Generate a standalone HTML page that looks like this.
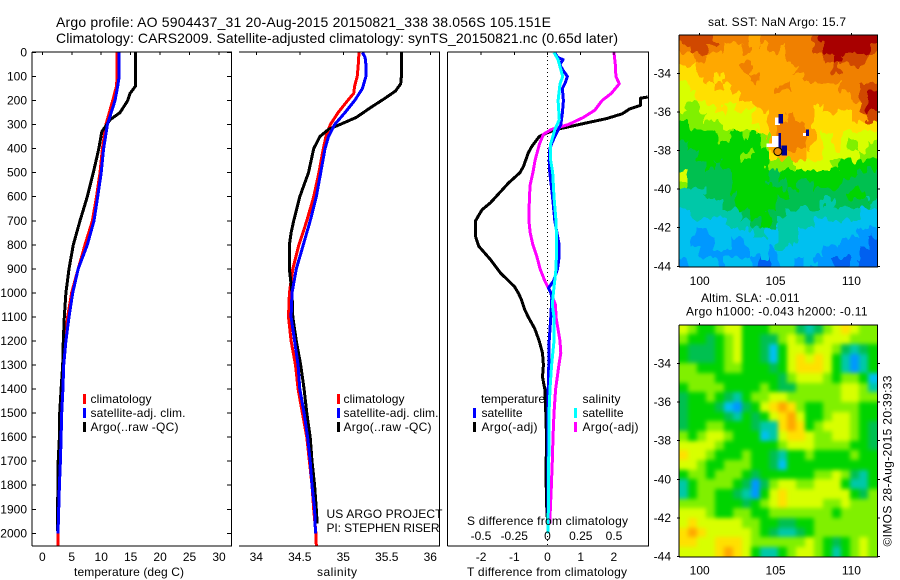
<!DOCTYPE html>
<html>
<head>
<meta charset="utf-8">
<title>Argo profile</title>
<style>
html,body{margin:0;padding:0;background:#fff;width:900px;height:580px;overflow:hidden}
svg{display:block}
text{font-family:"Liberation Sans",sans-serif;font-size:12px;fill:#000}
</style>
</head>
<body>
<svg id="chart" width="900" height="580" viewBox="0 0 900 580" xmlns="http://www.w3.org/2000/svg">
<defs>
<clipPath id="clip-diff"><rect x="447" y="52" width="202" height="494"/></clipPath>
<clipPath id="clip-map1"><rect x="679" y="35" width="199" height="232"/></clipPath>
<clipPath id="clip-map2"><rect x="679" y="325" width="199" height="232"/></clipPath>
<filter id="soft" x="-5%" y="-5%" width="110%" height="110%" color-interpolation-filters="sRGB"><feGaussianBlur stdDeviation="2.2"/></filter>
<filter id="jag" x="-10%" y="-10%" width="120%" height="120%" color-interpolation-filters="sRGB">
<feTurbulence type="fractalNoise" baseFrequency="0.13 0.07" numOctaves="2" seed="4" result="noise"/>
<feDisplacementMap in="SourceGraphic" in2="noise" scale="16" xChannelSelector="R" yChannelSelector="G"/>
</filter>
</defs>

<text x="56" y="27" style="font-size:14px" textLength="495" lengthAdjust="spacing">Argo profile: AO 5904437_31 20-Aug-2015 20150821_338 38.056S 105.151E</text>
<text x="56" y="43" style="font-size:14px" textLength="562" lengthAdjust="spacing">Climatology: CARS2009. Satellite-adjusted climatology: synTS_20150821.nc (0.65d later)</text>

<g id="temp-panel"></g>
<g id="sal-panel"></g>
<g id="diff-panel"></g>
<g id="map1-panel"></g>
<g id="map2-panel"></g>

<text x="74" y="576" textLength="110" lengthAdjust="spacing">temperature (deg C)</text>
<text x="317" y="576" textLength="40" lengthAdjust="spacing">salinity</text>
<text x="467" y="576" textLength="160" lengthAdjust="spacing">T difference from climatology</text>
<text x="467" y="525" textLength="161" lengthAdjust="spacing">S difference from climatology</text>

<g>
<rect x="83" y="394" width="3" height="10" fill="#f00"/>
<rect x="83" y="408" width="3" height="10" fill="#00f"/>
<rect x="83" y="422" width="3" height="10" fill="#000"/>
<text x="90.5" y="403" textLength="61" lengthAdjust="spacing">climatology</text>
<text x="90.5" y="417" textLength="95" lengthAdjust="spacing">satellite-adj. clim.</text>
<text x="90.5" y="431" textLength="88" lengthAdjust="spacing">Argo(..raw -QC)</text>
</g>
<g>
<rect x="337" y="394" width="3" height="10" fill="#f00"/>
<rect x="337" y="408" width="3" height="10" fill="#00f"/>
<rect x="337" y="422" width="3" height="10" fill="#000"/>
<text x="343.5" y="403" textLength="61" lengthAdjust="spacing">climatology</text>
<text x="343.5" y="417" textLength="95" lengthAdjust="spacing">satellite-adj. clim.</text>
<text x="343.5" y="431" textLength="88" lengthAdjust="spacing">Argo(..raw -QC)</text>
</g>
<text x="326.5" y="518" textLength="116" lengthAdjust="spacing">US ARGO PROJECT</text>
<text x="326.5" y="532" textLength="113" lengthAdjust="spacing">PI: STEPHEN RISER</text>

<g>
<text x="481" y="403" textLength="64" lengthAdjust="spacing">temperature</text>
<text x="582.5" y="403" textLength="38" lengthAdjust="spacing">salinity</text>
<rect x="473" y="408" width="3" height="10" fill="#00f"/>
<rect x="473" y="422" width="3" height="10" fill="#000"/>
<rect x="574" y="408" width="3" height="10" fill="#0ff"/>
<rect x="574" y="422" width="3" height="10" fill="#f0f"/>
<text x="481.5" y="417" textLength="41" lengthAdjust="spacing">satellite</text>
<text x="481.5" y="431" textLength="56" lengthAdjust="spacing">Argo(-adj)</text>
<text x="582.5" y="417" textLength="41" lengthAdjust="spacing">satellite</text>
<text x="582.5" y="431" textLength="56" lengthAdjust="spacing">Argo(-adj)</text>
</g>

<text x="708" y="26" textLength="138" lengthAdjust="spacing">sat. SST: NaN Argo: 15.7</text>
<text x="701" y="302" textLength="98.5" lengthAdjust="spacing">Altim. SLA: -0.011</text>
<text x="686" y="315.5" textLength="181.5" lengthAdjust="spacing">Argo h1000: -0.043 h2000: -0.11</text>
<text transform="translate(891.5,546.5) rotate(-90)" x="0" y="0" textLength="171" lengthAdjust="spacing">©IMOS 28-Aug-2015 20:39:33</text>
</svg>

<script>
/* ---- depth ticks ---- */
const depthTicks = [0,100,200,300,400,500,600,700,800,900,1000,1100,1200,1300,1400,1500,1600,1700,1800,1900,2000];

/* ---- temperature panel ---- */
const tempTicks = [0,5,10,15,20,25,30];
const tempDepths = [0,100,140,200,300,400,500,600,700,800,900,1000,1100,1200,1300,1400,1500,1600,1700,1800,1900,2000,2050];
const tempClimatology = [12.7,12.7,12.6,11.95,10.8,10.2,9.8,9.2,8.5,7.25,6.1,4.98,4.3,3.9,3.6,3.4,3.25,3.15,3.0,2.85,2.75,2.67,2.65];
const tempSatellite = [13.05,13.05,12.8,12.35,11.05,10.4,10,9.4,8.78,7.64,6.1,5.16,4.53,4.0,3.64,3.5,3.3,3.2,3.07,2.9,2.78,2.67];
const tempArgoDepths = [0,140,170,200,250,280,330,400,500,600,700,800,900,1000,1100,1200,1300,1400,1500,1600,1700,1800,1900,1990];
const tempArgo = [15.85,15.8,14.9,14.5,13.2,11.5,10.1,9.6,8.66,7.64,6.4,5.27,4.53,4.0,3.74,3.57,3.46,3.2,2.95,2.9,2.7,2.7,2.55,2.55];

/* ---- salinity panel ---- */
const salTicks = [34,34.5,35,35.5,36];
const salClimDepths = [0,60,100,140,170,200,250,300,350,400,500,600,700,800,900,1000,1100,1200,1300,1400,1500,1600,1700,1800,1900,2000,2050];
const salClimatology = [35.18,35.17,35.16,35.13,35.12,35.05,34.94,34.85,34.8,34.77,34.72,34.66,34.58,34.49,34.42,34.38,34.37,34.40,34.45,34.48,34.53,34.58,34.61,34.64,34.66,34.685,34.69];
const salSatDepths = [0,20,50,100,150,200,250,300,350,400,500,600,700,800,900,1000,1100,1200,1300,1400,1500,1600,1700,1800,1900,2000];
const salSatellite = [35.22,35.25,35.26,35.26,35.22,35.13,35.02,34.9,34.83,34.79,34.74,34.69,34.62,34.54,34.46,34.41,34.40,34.44,34.48,34.5,34.55,34.59,34.62,34.64,34.67,34.68];
const salArgoDepths = [0,90,130,160,190,230,270,300,320,350,400,450,500,550,600,700,750,800,900,1000,1100,1200,1300,1400,1500,1600,1700,1800,1900,1960];
const salArgo = [35.67,35.67,35.66,35.6,35.48,35.31,35.15,34.96,34.83,34.73,34.66,34.63,34.6,34.55,34.5,34.43,34.4,34.38,34.38,34.41,34.42,34.46,34.51,34.55,34.58,34.62,34.64,34.67,34.69,34.7];

/* ---- difference panel ---- */
const tDiffTicks = [-2,-1,0,1,2];
const sDiffTicks = [-0.5,-0.25,0,0.25,0.5];
const sDiffTickText = ['-0.5','-0.25','0','0.25','0.5'];
const tArgoDepths = [185,190,220,235,255,275,290,305,320,335,350,390,418,473,500,542,625,654,700,764,806,861,917,973,1000,1030,1071,1100,1150,1200,1250,1300,1350,1400,1500,1600,1700,1800,1900,1950];
const tArgoDiff = [3.02,2.8,2.8,2.47,2.25,1.78,1.27,0.78,0.28,-0.03,-0.25,-0.47,-0.58,-0.72,-0.83,-1.17,-1.72,-1.97,-2.17,-2.17,-2.07,-1.72,-1.42,-1.0,-0.88,-0.78,-0.68,-0.58,-0.38,-0.25,-0.15,-0.125,-0.15,-0.08,-0.05,-0.03,-0.04,-0.04,-0.02,0];
const tSatDepths = [0,20,30,50,70,100,130,150,200,250,300,350,380,400,450,500,600,700,800,850,900,950,980,1000,1020,1100,1200,1300,1400,1500,1600,1700,1800,1900,2000];
const tSatDiff = [0.22,0.3,0.47,0.37,0.45,0.6,0.52,0.45,0.48,0.45,0.4,0.22,0.12,0.07,0.05,0.07,0.15,0.22,0.35,0.35,0.3,0.18,0.03,0.1,0.13,0.1,0.05,0.04,0.02,0.01,0.02,0.02,0.02,0.01,0.01];
const sArgoDepths = [0,50,100,130,170,200,240,270,300,320,340,380,420,450,500,550,600,700,750,800,850,900,950,1000,1050,1100,1200,1250,1300,1350,1400,1500,1600,1700,1800,1900,1960];
const sArgoDiff = [0.5,0.51,0.514,0.54,0.48,0.41,0.356,0.27,0.156,0.03,-0.03,-0.06,-0.08,-0.094,-0.11,-0.13,-0.136,-0.14,-0.13,-0.11,-0.08,-0.056,-0.02,0.026,0.06,0.064,0.094,0.1,0.086,0.074,0.061,0.049,0.041,0.036,0.029,0.021,0.019];
const sSatDepths = [0,30,100,130,200,280,320,380,450,500,600,700,800,900,1000,1050,1100,1200,1300,1400,1500,1600,1700,1800,1900,2000];
const sSatDiff = [0.049,0.08,0.114,0.094,0.08,0.089,0.056,0.024,0.024,0.039,0.049,0.064,0.069,0.064,0.044,0.036,0.049,0.049,0.031,0.019,0.011,0.011,0.009,0.009,0.006,0.004];

/* ---- map axes ---- */
const lonTicks = [100,105,110];
const latTicks = [-34,-36,-38,-40,-42,-44];
const argoLon = 105.151;
const argoLat = -38.056;

/* ---- SST map: colour level per cell, north to south ---- */
const sstGrid = [
[12,12,12,12,11,11,11,11,10,11,11,11,11,11,11,12,13,13,13,13,13,13],
[11,12,12,11,11,10,10,11,10,10,11,10,11,11,11,12,13,13,13,13,13,12],
[10,10,11,10,10,10,10,10,10,10,10,10,11,11,11,11,12,13,12,12,12,11],
[9,9,10,10,10,10,10,11,10,10,10,10,10,11,11,11,11,12,11,11,11,11],
[9,9,9,10,9,10,10,10,11,10,10,10,10,10,11,11,11,11,11,11,11,11],
[8,9,9,9,10,9,10,10,10,10,10,11,10,10,10,10,10,10,11,11,12,12],
[8,8,9,9,9,9,9,10,10,10,10,10,10,10,10,10,10,10,10,11,12,13],
[8,7,8,8,9,8,9,9,10,10,10,10,10,10,10,9,10,10,10,10,12,13],
[7,7,7,8,8,8,8,8,9,9,10,10,11,10,10,9,9,9,9,10,10,12],
[6,7,7,7,7,8,8,8,8,9,10,11,11,11,10,9,9,9,9,9,9,9],
[6,6,6,6,7,7,6,7,6,7,10,11,11,11,10,9,8,9,8,8,8,8],
[5,6,6,6,6,6,6,6,6,7,10,11,11,11,10,9,8,9,8,7,8,7],
[5,5,6,6,6,6,6,7,6,6,9,10,10,10,9,9,8,8,8,8,7,7],
[5,5,5,6,5,6,6,6,6,6,7,7,7,8,8,8,8,7,6,6,6,6],
[8,5,5,5,5,5,6,6,6,6,5,6,6,6,6,6,6,6,6,6,5,5],
[7,5,5,5,5,5,6,6,6,6,5,5,6,5,5,6,6,6,5,5,5,5],
[4,4,4,5,5,5,6,6,6,6,6,6,5,5,5,5,5,5,5,6,6,5],
[4,4,4,4,4,5,6,6,6,6,6,5,5,5,5,5,4,5,5,5,5,4],
[3,4,4,4,4,4,4,5,6,6,5,5,4,4,4,4,4,4,4,4,3,3],
[3,3,3,3,3,4,4,4,5,6,5,4,4,4,4,3,3,3,3,3,3,3],
[3,3,2,3,3,3,3,3,4,4,3,4,4,3,3,3,3,3,3,3,2,2],
[3,2,2,2,3,3,2,3,3,3,3,4,4,3,3,3,3,3,2,2,2,1],
[3,3,2,2,2,2,2,2,3,3,2,3,3,3,3,3,2,2,2,2,1,1],
[2,3,3,3,2,3,3,3,2,1,2,3,3,2,3,2,2,1,1,2,1,1]
];
/* missing / cold patches on the SST map: lon west, lon east, lat north, lat south, level (-1 = no data) */
const sstPatches = [
[104.96,105.3,-36.28,-36.68,-1],
[105.18,105.5,-36.1,-36.6,0],
[104.75,105.25,-37.25,-37.83,-1],
[104.4,104.75,-37.65,-37.83,-1],
[105.2,105.35,-37.1,-38.1,0],
[105.4,105.75,-37.75,-38.25,0],
[106.8,107,-37.1,-37.25,-1],
[107,107.2,-36.9,-37.25,0]
];

/* ---- SLA map: colour level per cell, north to south ---- */
const slaGrid = [
[8,7,6,6,7,8,8,6,6,6,7,7,7,5,4,5,7,8,9,8,7,7],
[7,6,6,5,6,7,8,6,6,5,5,7,8,7,5,7,8,8,8,7,7,7],
[6,5,5,5,6,7,8,6,6,5,3,6,8,8,7,8,8,7,5,4,5,6],
[6,5,5,5,6,7,8,6,6,5,3,6,8,9,8,9,8,6,4,2,4,6],
[7,7,6,6,6,7,7,6,6,6,5,6,8,9,9,9,8,6,4,2,4,6],
[7,7,7,7,6,6,6,6,6,6,6,5,7,8,8,8,7,6,7,7,6,3],
[6,7,7,7,7,6,6,6,6,7,6,5,5,7,7,7,7,7,8,8,7,4],
[5,6,6,7,6,5,4,6,7,7,8,8,7,7,7,7,7,7,8,8,7,7],
[5,6,6,6,5,3,2,5,6,8,9,10,9,7,6,6,7,7,7,7,6,6],
[5,6,6,6,6,5,4,6,5,6,8,9,10,8,6,6,7,8,8,7,6,6],
[5,6,6,7,7,6,6,6,5,4,4,9,10,9,6,7,8,8,8,7,6,5],
[7,6,7,8,8,7,6,6,6,3,4,8,9,9,8,7,7,8,8,7,6,5],
[8,8,8,8,7,6,6,6,6,6,6,7,8,8,8,7,7,7,7,6,6,5],
[9,8,8,7,6,6,6,7,6,6,5,4,6,6,7,6,6,6,6,7,6,6],
[8,8,7,6,6,7,7,7,6,6,5,3,6,6,6,6,6,6,6,6,6,6],
[6,7,7,6,7,7,7,6,5,6,6,6,6,6,6,7,7,8,7,5,4,6],
[4,6,7,7,7,7,6,5,2,5,7,8,8,7,7,8,8,8,6,4,4,6],
[4,6,7,7,6,6,5,4,2,6,8,9,8,8,8,8,8,8,8,6,5,7],
[7,7,7,7,6,6,6,5,6,7,8,9,8,8,8,8,7,7,8,7,7,7],
[8,8,8,7,6,6,7,7,6,6,7,7,7,7,7,7,7,6,7,7,7,7],
[8,9,8,8,8,8,8,7,7,6,6,5,5,6,6,7,7,7,7,7,7,7],
[9,10,9,8,8,8,8,8,7,6,5,4,4,5,6,7,7,7,7,7,7,7],
[9,9,8,8,9,9,9,8,7,7,7,7,7,7,8,7,6,5,6,7,8,7],
[8,8,8,8,9,10,9,8,6,4,4,6,7,8,8,7,6,4,6,7,8,7]
];

const palette = ['#000090','#0060f0','#0098ff','#00c0f0','#00c8a8','#00c050','#00d400','#80f000','#d8ff00','#ffe000','#ffa800','#f08000','#d04800','#a80000'];
const SVGNS = 'http://www.w3.org/2000/svg';

function make(tag, parent, props) {
  const el = document.createElementNS(SVGNS, tag);
  for (const k in props) el.setAttribute(k, props[k]);
  parent.appendChild(el);
  return el;
}
function axisLine(parent, x1, y1, x2, y2) {
  const el = make('line', parent, {x1:x1, y1:y1, x2:x2, y2:y2, stroke:'#000', 'stroke-width':1, 'shape-rendering':'crispEdges'});
  
  
  return el;
}
function tick(parent, x1, y1, x2, y2) {
  const el = make('line', parent, {x1:x1, y1:y1, x2:x2, y2:y2, stroke:'#000', 'stroke-width':1, 'shape-rendering':'crispEdges'});
  
  
  return el;
}
function label(parent, x, y, str, anchor) {
  const el = make('text', parent, {x:x, y:y, 'text-anchor':anchor});
  el.textContent = str;
  
  
  return el;
}
function series(parent, name, depths, values, xFn, color, width, clip) {
  const pts = values.map((v, i) => xFn(v).toFixed(1) + ',' + yDepth(depths[i]).toFixed(1)).join(' ');
  const el = make('polyline', parent, {points:pts, fill:'none', stroke:color, 'stroke-width':width, 'stroke-linejoin':'round', 'shape-rendering':'crispEdges'});
  if (clip) el.setAttribute('clip-path', clip);
  
  
  return el;
}

const yDepth = d => 52.5 + 0.2404 * d;
const xTemp = t => 42.3 + 5.89 * t;
const xSal = s => 256.3 + 87 * (s - 34);
const xTDiff = t => 547.5 + 33.2 * t;
const xSDiff = s => 547.5 + 133 * s;
const xLon = lon => 699.7 + 15.17 * (lon - 100);
const yLat1 = lat => 73.3 + 19.3 * (-34 - lat);
const yLat2 = lat => 363.3 + 19.34 * (-34 - lat);

/* temperature panel */
const tp = document.getElementById('temp-panel');
series(tp, 'climatology-temperature-line', tempDepths, tempClimatology, xTemp, '#f00', 3);
series(tp, 'argo-temperature-line', tempArgoDepths, tempArgo, xTemp, '#000', 3);
series(tp, 'satellite-temperature-line', tempDepths, tempSatellite, xTemp, '#00f', 3);
axisLine(tp, 32, 52, 232, 52);
axisLine(tp, 32, 546, 232, 546);
axisLine(tp, 32, 52, 32, 546);
axisLine(tp, 231.5, 52, 231.5, 546);
depthTicks.forEach(d => {
  tick(tp, 32, yDepth(d), 36, yDepth(d));
  tick(tp, 227, yDepth(d), 231, yDepth(d));
  label(tp, 27, yDepth(d) + 4, String(d), 'end');
});
tempTicks.forEach(t => {
  tick(tp, xTemp(t), 52, xTemp(t), 55);
  label(tp, xTemp(t), 561, String(t), 'middle');
});

/* salinity panel */
const sp = document.getElementById('sal-panel');
series(sp, 'climatology-salinity-line', salClimDepths, salClimatology, xSal, '#f00', 3);
series(sp, 'argo-salinity-line', salArgoDepths, salArgo, xSal, '#000', 3);
series(sp, 'satellite-salinity-line', salSatDepths, salSatellite, xSal, '#00f', 3);
axisLine(sp, 239, 52, 440, 52);
axisLine(sp, 239, 546, 440, 546);
axisLine(sp, 439.5, 52, 439.5, 546);
salTicks.forEach(s => {
  tick(sp, xSal(s), 52, xSal(s), 55);
  label(sp, xSal(s), 561, String(s), 'middle');
});

/* difference panel */
const dp = document.getElementById('diff-panel');
const zeroLine = make('line', dp, {x1:xTDiff(0), y1:52, x2:xTDiff(0), y2:546, stroke:'#000', 'stroke-width':1, 'stroke-dasharray':'1 3', 'shape-rendering':'crispEdges'});


series(dp, 'argo-t-difference-line', tArgoDepths, tArgoDiff, xTDiff, '#000', 3, 'url(#clip-diff)');
series(dp, 'argo-s-difference-line', sArgoDepths, sArgoDiff, xSDiff, '#f0f', 3, 'url(#clip-diff)');
series(dp, 'satellite-t-difference-line', tSatDepths, tSatDiff, xTDiff, '#00f', 3, 'url(#clip-diff)');
series(dp, 'satellite-s-difference-line', sSatDepths, sSatDiff, xSDiff, '#0ff', 3, 'url(#clip-diff)');
axisLine(dp, 447.5, 52, 649, 52);
axisLine(dp, 447.5, 546, 649, 546);
axisLine(dp, 447.5, 52, 447.5, 546);
axisLine(dp, 648.5, 52, 648.5, 546);
tDiffTicks.forEach(t => {
  tick(dp, xTDiff(t), 52, xTDiff(t), 55);
  label(dp, xTDiff(t), 561, String(t), 'middle');
});
sDiffTicks.forEach((s, i) => {
  label(dp, xSDiff(s), 540, sDiffTickText[i], 'middle');
});

/* maps: edge cells overhang the frame so blur and jitter never expose a gap */
function drawGrid(parent, grid, y0, y1, name) {
  const x0 = 679.3, x1 = 878, overhang = 14;
  const rows = grid.length, cols = grid[0].length;
  grid.forEach((row, r) => {
    row.forEach((level, c) => {
      let cx0 = Math.floor(x0 + (x1 - x0) * c / cols);
      let cx1 = Math.ceil(x0 + (x1 - x0) * (c + 1) / cols);
      let cy0 = Math.floor(y0 + (y1 - y0) * r / rows);
      let cy1 = Math.ceil(y0 + (y1 - y0) * (r + 1) / rows);
      if (c === 0) cx0 -= overhang;
      if (c === cols - 1) cx1 += overhang;
      if (r === 0) cy0 -= overhang;
      if (r === rows - 1) cy1 += overhang;
      const cell = make('rect', parent, {x:cx0, y:cy0, width:cx1 - cx0, height:cy1 - cy0, fill:palette[level], 'shape-rendering':'crispEdges'});
      
      
    });
  });
}
function mapFrame(parent, top, bottom, yLat, labelBase) {
  axisLine(parent, 679, top, 878, top);
  axisLine(parent, 679, bottom, 878, bottom);
  axisLine(parent, 679, top, 679, bottom);
  axisLine(parent, 877.5, top, 877.5, bottom);
  lonTicks.forEach(lon => {
    tick(parent, xLon(lon), top - 2, xLon(lon), top);
    label(parent, xLon(lon), labelBase, String(lon), 'middle');
  });
  latTicks.forEach(lat => {
    tick(parent, 677, yLat(lat), 680, yLat(lat));
    tick(parent, 877, yLat(lat), 880, yLat(lat));
    label(parent, 671, yLat(lat) + 4, String(lat), 'end');
  });
}

const m1 = document.getElementById('map1-panel');
const m1Cells = make('g', m1, {'clip-path':'url(#clip-map1)'});


const m1Soft = make('g', m1Cells, {filter:'url(#jag)'});
drawGrid(m1Soft, sstGrid, 35.3, 267, 'sst-cell');
sstPatches.forEach(p => {
  const patch = make('rect', m1Cells, {x:xLon(p[0]), y:yLat1(p[2]), width:xLon(p[1]) - xLon(p[0]), height:yLat1(p[3]) - yLat1(p[2]), fill:p[4] < 0 ? '#fff' : palette[p[4]], 'shape-rendering':'crispEdges'});
  
  
});
const argoDot = make('circle', m1, {cx:xLon(argoLon), cy:yLat1(argoLat), r:4, fill:'#f09000', stroke:'#000', 'stroke-width':1});


mapFrame(m1, 35, 267, yLat1, 285);

const m2 = document.getElementById('map2-panel');
const m2Cells = make('g', m2, {'clip-path':'url(#clip-map2)'});


const m2Soft = make('g', m2Cells, {filter:'url(#soft)'});
drawGrid(m2Soft, slaGrid, 325, 557, 'sla-cell');
mapFrame(m2, 325, 557, yLat2, 574.5);
</script>
</body>
</html>
